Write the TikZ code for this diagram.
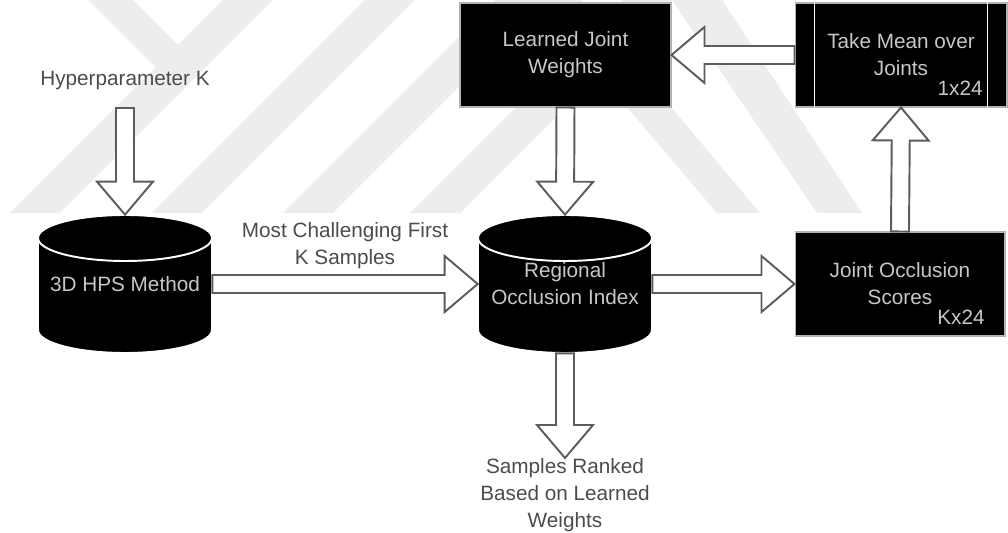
\documentclass[tikz,border=0pt]{standalone}
\usepackage{fontspec}
\setmainfont{Liberation Sans}
\usetikzlibrary{calc}
\definecolor{wm}{gray}{0.93}
\definecolor{outtxt}{gray}{0.30}
\definecolor{intxt}{gray}{0.78}
\definecolor{arrline}{gray}{0.36}
\tikzset{
  lbl/.style={font=\fontsize{11.8}{15.3}\selectfont, text=outtxt, align=center, inner sep=0pt},
  intext/.style={font=\fontsize{11.8}{15.3}\selectfont, text=intxt, align=center, inner sep=0pt},
  blackbox/.style={intext, draw=black!30, line width=0.6pt, fill=black, minimum width=4.22cm, minimum height=2.08cm},
  cylnode/.style={intext, draw=none, minimum width=3.48cm, minimum height=2.76cm},
  cylline/.style={draw=white, line width=1.1pt},
  barrow/.style={draw=arrline, fill=white, line width=1.1pt, line join=miter},
  wmband/.style={fill=wm, draw=none},
}
\newcommand\blockarrow[2]{%
  \coordinate (ba-h) at ($(#2)!0.66cm!(#1)$);
  \path[barrow] ($(#1)!0.18cm!90:(#2)$) -- ($(ba-h)!0.18cm!90:(#2)$) -- ($(ba-h)!0.56cm!90:(#2)$) -- (#2)
    -- ($(ba-h)!0.56cm!-90:(#2)$) -- ($(ba-h)!0.18cm!-90:(#2)$) -- ($(#1)!0.18cm!-90:(#2)$) -- cycle;
}
\newcommand\cyldraw[3]{% cx, top, bottom
  \fill[black] (#1-87,#2+23) rectangle (#1+87,#3-23);
  \fill[black] (#1,#2+23) ellipse[x radius=1.74cm, y radius=0.46cm];
  \fill[black] (#1,#3-23) ellipse[x radius=1.74cm, y radius=0.46cm];
  \draw[cylline] (#1,#2+23) ellipse[x radius=1.74cm, y radius=0.46cm];
  \draw[cylline] (#1-87,#2+23) -- (#1-87,#3-23);
  \draw[cylline] (#1+87,#2+23) -- (#1+87,#3-23);
  \begin{scope}
    \clip (#1-95,#3-23) rectangle (#1+95,#3+10);
    \draw[cylline] (#1,#3-23) ellipse[x radius=1.74cm, y radius=0.46cm];
  \end{scope}
}
\begin{document}
\begin{tikzpicture}[x=0.02cm, y=-0.02cm]
\useasboundingbox (0,0) rectangle (1008,533);
\fill[white] (0,0) rectangle (1008,533);
% watermark
\begin{scope}
  \clip (0,0) rectangle (1008,213);
  \foreach \x in {10,152,283,410}
    \fill[wmband] (\x,213) -- (\x+50,213) -- (\x+263,0) -- (\x+213,0) -- cycle;
  \fill[wmband] (88,0) -- (133,0) -- (203,70) -- (180.5,92.5) -- cycle;
  \fill[wmband] (536,0) -- (581,0) -- (760,213) -- (717,213) -- cycle;
  \fill[wmband] (672,0) -- (722,0) -- (862,213) -- (817,213) -- cycle;
\end{scope}
% cylinders
\cyldraw{125}{215}{353}
\cyldraw{565}{215}{353}
% nodes
\node[lbl] (hyp) at (125,81) {Hyperparameter K};
\node[cylnode] (hps) at (125,284) {3D HPS Method};
\node[cylnode] (roi) at (565,284) {Regional\\Occlusion Index};
\node[blackbox] (ljw) at (565.5,55) {Learned Joint\\Weights};
\node[blackbox, minimum width=4.24cm] (mean) at (901,55) {Take Mean over\\Joints};
\draw[white, line width=0.8pt] ([xshift=0.4cm]mean.north west) -- ([xshift=0.4cm]mean.south west);
\draw[white, line width=0.8pt] ([xshift=-0.4cm]mean.north east) -- ([xshift=-0.4cm]mean.south east);
\node[intext, anchor=east] (meandim) at (983,88) {1x24};
\node[blackbox, minimum width=4.2cm] (jos) at (900,284) {Joint Occlusion\\Scores};
\node[intext, anchor=east] (josdim) at (985,317) {Kx24};
\node[lbl] (mck) at (345,246) {Most Challenging First\\K Samples};
\node[lbl, anchor=north] (out) at (565,458) {Samples Ranked\\Based on Learned\\Weights};
% connectors
\coordinate (hypout) at (125,108);
\blockarrow{hypout}{hps.north}
\blockarrow{hps.east}{roi.west}
\blockarrow{roi.east}{jos.west}
\blockarrow{jos.north}{mean.south}
\blockarrow{mean.west}{ljw.east}
\blockarrow{ljw.south}{roi.north}
\blockarrow{roi.south}{out.north}
\end{tikzpicture}
\end{document}
